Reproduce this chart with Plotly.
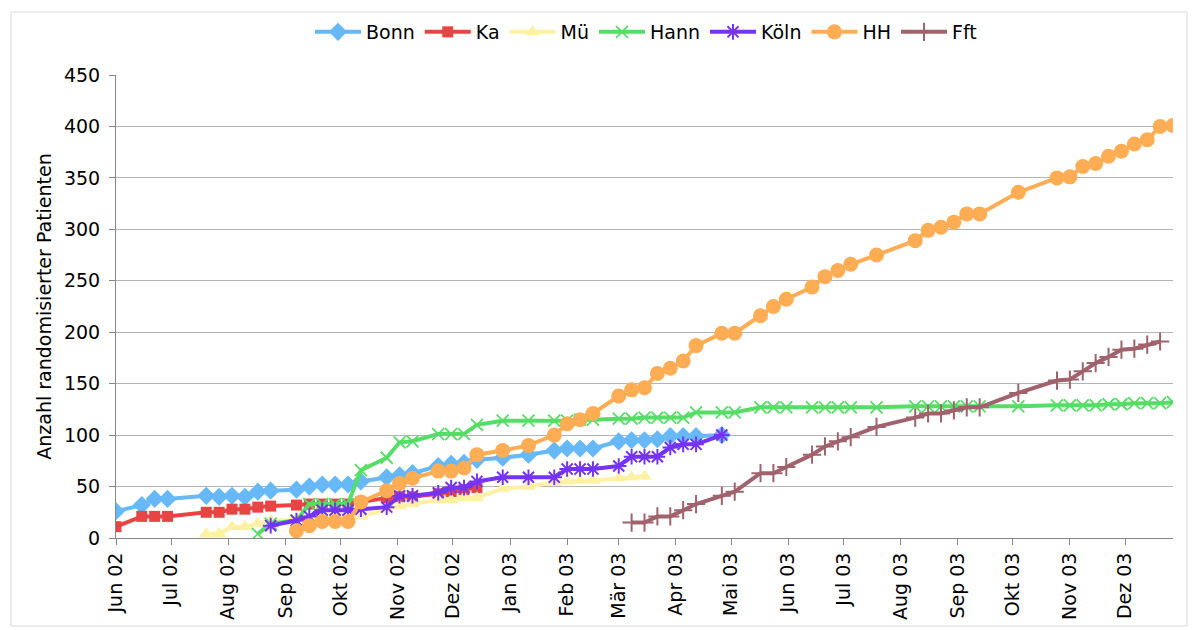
import pandas as pd
import plotly.graph_objects as go

# Randomisierte Patienten je Zentrum (kumulativ), Stichtage als Studienwochen ab 01.06.2002
studienbeginn = "2002-06-01"

bonn_woche = [0, 2, 3, 4, 7, 8, 9, 10, 11, 12, 14, 15, 16, 17, 18, 19, 21, 22, 23, 25, 26, 27, 28,
              30, 32, 34, 35, 36, 37, 39, 40, 41, 42, 43, 44, 45, 47]
bonn_n = [26, 32, 38, 38, 41, 40, 41, 40, 45, 46, 47, 50, 52, 52, 52, 55, 59, 61, 63, 70, 72, 73, 76,
          78, 81, 85, 87, 87, 87, 94, 95, 95, 96, 99, 99, 99, 100]

ka_woche = [0, 2, 3, 4, 7, 8, 9, 10, 11, 12, 14, 15, 16, 17, 18, 19, 21, 22, 23, 25, 26, 27, 28]
ka_n = [11, 21, 21, 21, 25, 25, 28, 28, 30, 31, 32, 33, 33, 33, 33, 35, 39, 40, 40, 43, 45, 47, 49]

mue_woche = [7, 8, 9, 10, 11, 12, 14, 15, 16, 17, 18, 19, 21, 22, 23, 25, 26, 27, 28, 30, 32, 34,
             35, 36, 37, 39, 40, 41]
mue_n = [4, 4, 11, 11, 14, 17, 18, 19, 19, 19, 19, 21, 28, 31, 33, 37, 37, 39, 39, 48, 50, 54,
         55, 56, 56, 58, 59, 60]

hann_woche = [11, 12, 14, 15, 16, 17, 18, 19, 21, 22, 23, 25, 26, 27, 28, 30, 32, 34, 35, 36, 37,
              39, 40, 41, 42, 43, 44, 45, 47, 48, 50, 51, 52, 54, 55, 56, 57, 59, 62, 63, 64, 65,
              66, 67, 70, 73, 74, 75, 76, 77, 78, 79, 80, 81, 82]
hann_n = [4, 14, 17, 33, 33, 33, 33, 66, 78, 93, 94, 101, 101, 101, 110, 114, 114, 114, 114, 115, 115,
          116, 116, 117, 117, 117, 117, 122, 122, 122, 127, 127, 127, 127, 127, 127, 127, 127, 128,
          128, 128, 128, 128, 128, 128, 129, 129, 129, 129, 130, 130, 131, 131, 131, 132]

koeln_woche = [12, 14, 15, 16, 17, 18, 19, 21, 22, 23, 25, 26, 27, 28, 30, 32, 34, 35, 36, 37, 39,
               40, 41, 42, 43, 44, 45, 47]
koeln_n = [12, 17, 21, 27, 27, 27, 28, 30, 41, 41, 44, 49, 49, 55, 59, 59, 59, 67, 67, 67, 70,
           79, 79, 79, 88, 91, 91, 100]

hh_woche = [14, 15, 16, 17, 18, 19, 21, 22, 23, 25, 26, 27, 28, 30, 32, 34, 35, 36, 37, 39, 40, 41,
            42, 43, 44, 45, 47, 48, 50, 51, 52, 54, 55, 56, 57, 59, 62, 63, 64, 65, 66, 67, 70, 73,
            74, 75, 76, 77, 78, 79, 80, 81, 82]
hh_n = [7, 12, 16, 16, 16, 35, 46, 53, 58, 65, 65, 68, 81, 85, 90, 100, 111, 115, 121, 138, 144, 146,
        160, 165, 172, 187, 199, 199, 216, 225, 232, 244, 254, 260, 266, 275, 289, 299, 302, 307,
        315, 315, 336, 350, 351, 361, 364, 371, 376, 383, 387, 400, 401]

fft_woche = [40, 41, 42, 43, 44, 45, 47, 48, 50, 51, 52, 54, 55, 56, 57, 59, 62, 63, 64, 65, 66, 67,
             70, 73, 74, 75, 76, 77, 78, 79, 80, 81]
fft_n = [15, 15, 21, 21, 27, 33, 41, 45, 63, 63, 69, 81, 89, 94, 98, 108, 117, 121, 121, 124, 127,
         127, 141, 153, 154, 162, 170, 176, 183, 184, 188, 191]

monate = ["2002-06-01", "2002-07-01", "2002-08-01", "2002-09-01", "2002-10-01", "2002-11-01",
          "2002-12-01", "2003-01-01", "2003-02-01", "2003-03-01", "2003-04-01", "2003-05-01",
          "2003-06-01", "2003-07-01", "2003-08-01", "2003-09-01", "2003-10-01", "2003-11-01",
          "2003-12-01"]
monats_text = ["Jun 02", "Jul 02", "Aug 02", "Sep 02", "Okt 02", "Nov 02", "Dez 02", "Jan 03",
               "Feb 03", "Mär 03", "Apr 03", "Mai 03", "Jun 03", "Jul 03", "Aug 03", "Sep 03",
               "Okt 03", "Nov 03", "Dez 03"]


def stichtag(wochen):
    return pd.to_datetime(studienbeginn) + pd.to_timedelta([7 * w for w in wochen], unit="D")


FONT = "DejaVu Sans"
FS = 19
W, H = 1192, 630
L, R, T, B = 116, 19, 75, 92

zentren = [
    ("Bonn", bonn_woche, bonn_n, "#66b8f7", "diamond", 14, 0),
    ("Ka", ka_woche, ka_n, "#e84444", "square", 11, 0),
    ("Mü", mue_woche, mue_n, "#fff1a3", "triangle-up", 13, 0),
    ("Hann", hann_woche, hann_n, "#55dd66", "x-thin", 12, 1.8),
    ("Köln", koeln_woche, koeln_n, "#7433f5", "asterisk", 13, 2),
    ("HH", hh_woche, hh_n, "#ffad55", "circle", 15, 0),
    ("Fft", fft_woche, fft_n, "#a0626d", "cross-thin", 13, 2),
]

fig = go.Figure()
for name, wochen, werte, farbe, symbol, groesse, lw in zentren:
    fig.add_trace(go.Scatter(
        x=stichtag(wochen), y=werte, name=name, mode="lines+markers",
        line=dict(color=farbe, width=4),
        marker=dict(symbol=symbol, size=groesse, color=farbe,
                    line=dict(color=farbe, width=lw)),
    ))

pw = W - L - R
ph = H - T - B
fig.add_shape(type="rect", xref="paper", yref="paper",
              x0=(11 - L) / pw, x1=(W - 5 - L) / pw,
              y0=-(H - 4 - T - ph) / ph, y1=1 + (T - 12) / ph,
              line=dict(color="#d9d9d9", width=1), fillcolor="rgba(0,0,0,0)", layer="below")

fig.update_layout(
    width=W, height=H,
    margin=dict(l=L, r=R, t=T, b=B, autoexpand=False),
    paper_bgcolor="white", plot_bgcolor="white",
    font=dict(family=FONT, size=FS, color="black"),
    showlegend=True,
    legend=dict(orientation="h", xref="container", yref="container",
                x=646 / W, xanchor="center", y=1 - 32 / H, yanchor="middle",
                font=dict(family=FONT, size=FS), itemwidth=46, tracegroupgap=0),
    xaxis=dict(
        type="date", range=[studienbeginn, "2003-12-27"], automargin=False,
        tickmode="array", tickvals=monate, ticktext=monats_text, tickangle=-90,
        showgrid=False, showline=True, linecolor="#868686", linewidth=1,
        ticks="outside", ticklen=6, tickcolor="#868686",
        tickfont=dict(family=FONT, size=FS), zeroline=False,
    ),
    yaxis=dict(
        range=[0, 450], dtick=50, tick0=0, automargin=False,
        showgrid=True, gridcolor="#b3b3b3", gridwidth=1,
        showline=True, linecolor="#868686", linewidth=1,
        ticks="outside", ticklen=6, tickcolor="#868686", ticklabelstandoff=5,
        tickfont=dict(family=FONT, size=FS), zeroline=False,
        title=dict(text="Anzahl randomisierter Patienten", font=dict(family=FONT, size=FS),
                   standoff=7),
    ),
)

fig.write_html("out.html")
